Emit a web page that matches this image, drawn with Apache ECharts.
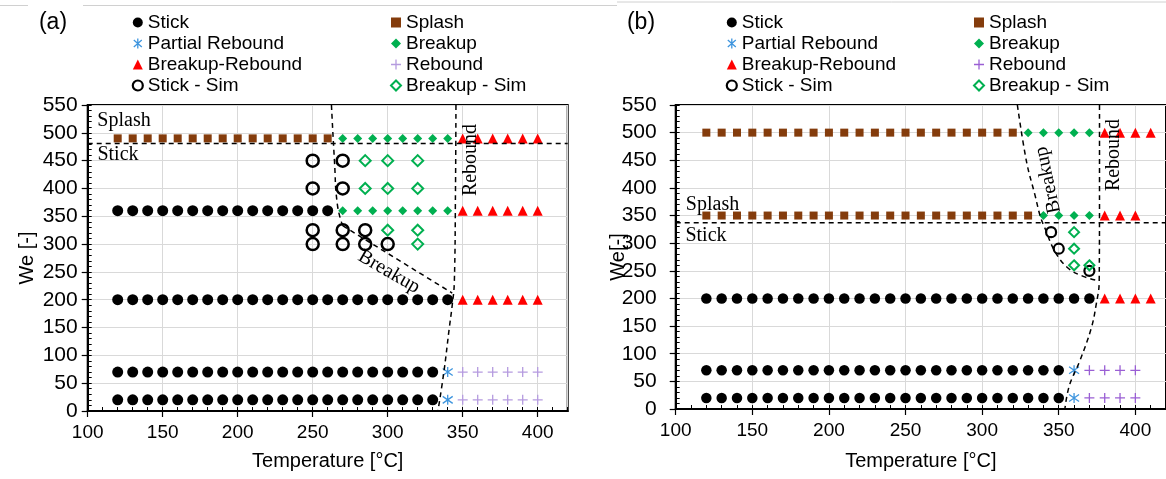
<!DOCTYPE html>
<html><head><meta charset="utf-8">
<script src="https://cdn.jsdelivr.net/npm/echarts@6/dist/echarts.min.js"></script>
<style>
html,body{margin:0;padding:0;background:#fff;width:1166px;height:479px;overflow:hidden}
#a{position:absolute;left:0;top:0;width:583px;height:479px}
#b{position:absolute;left:583px;top:0;width:583px;height:479px}
</style>
</head><body><div id="a"></div><div id="b"></div>
<script>
// ================= Panel (a) data =================
const aSplashT490   = [120,130,140,150,160,170,180,190,200,210,220,230,240,250,260];
const aBreakupT490  = [270,280,290,300,310,320,330,340];
const aBRT490       = [350,360,370,380,390,400];
const aStickT360    = [120,130,140,150,160,170,180,190,200,210,220,230,240,250,260];
const aBreakupT360  = [270,280,290,300,310,320,330,340];
const aBRT360       = [350,360,370,380,390,400];
const aStickT200    = [120,130,140,150,160,170,180,190,200,210,220,230,240,250,260,270,280,290,300,310,320,330,340];
const aBRT200       = [350,360,370,380,390,400];
const aStickT70     = [120,130,140,150,160,170,180,190,200,210,220,230,240,250,260,270,280,290,300,310,320,330];
const aStickT20     = [120,130,140,150,160,170,180,190,200,210,220,230,240,250,260,270,280,290,300,310,320,330];
const aPartial      = [[340,70],[340,20]];
const aReboundT70   = [350,360,370,380,390,400];
const aReboundT20   = [350,360,370,380,390,400];
const aStickSim     = [[250,450],[270,450],[250,400],[270,400],[250,325],[270,325],[285,325],[250,300],[270,300],[285,300],[300,300]];
const aBreakupSim   = [[285,450],[300,450],[320,450],[285,400],[300,400],[320,400],[300,325],[320,325],[320,300]];
// regime boundaries (a)
const aSplashLine   = [[100,481],[420,481]];
const aBreakupUpper = [[262.5,550],[264.5,450],[266.5,370],[270,333]];
const aBreakupLower = [[270,333],[343,212]];
const aReboundLine  = [[345.5,550],[345.2,400],[344.4,230],[343,190],[341,148],[337.5,71],[333.5,0]];

// ================= Panel (b) data =================
const bSplashT500   = [120,130,140,150,160,170,180,190,200,210,220,230,240,250,260,270,280,290,300,310,320];
const bBreakupT500  = [330,340,350,360,370];
const bBRT500       = [380,390,400,410];
const bSplashT350   = [120,130,140,150,160,170,180,190,200,210,220,230,240,250,260,270,280,290,300,310,320,330];
const bBreakupT350  = [340,350,360,370];
const bBRT350       = [380,390,400];
const bStickT200    = [120,130,140,150,160,170,180,190,200,210,220,230,240,250,260,270,280,290,300,310,320,330,340,350,360,370];
const bBRT200       = [380,390,400,410];
const bStickT70     = [120,130,140,150,160,170,180,190,200,210,220,230,240,250,260,270,280,290,300,310,320,330,340,350];
const bStickT20     = [120,130,140,150,160,170,180,190,200,210,220,230,240,250,260,270,280,290,300,310,320,330,340,350];
const bPartial      = [[360,70],[360,20]];
const bReboundT70   = [370,380,390,400];
const bReboundT20   = [370,380,390,400];
const bStickSim     = [[345,320],[350,290],[370,250]];
const bBreakupSim   = [[360,320],[360,290],[360,260],[370,260]];
// regime boundaries (b)
const bSplashLine   = [[100,337],[420,337]];
const bBreakupCurve = [[323,550],[329,447],[334.5,387],[338,348],[341,327],[347.5,285],[356,255],[366,240],[374.5,233]];
const bReboundLine  = [[376.6,550],[376.6,400],[376.4,230],[374.5,190],[371.2,146],[363.6,86],[357,43],[354,0]];

// ================= helpers =================
const pts = (ts, we) => ts.map(t => [t, we]);
const SANS = 'Liberation Sans';
const SERIF = 'Liberation Serif';
const ASTER = 'path://M5,0L5,10M1,1.5L9,8.5M1,8.5L9,1.5';
const PLUS  = 'path://M5,0L5,10M0,5L10,5';
const C = {stick:'#000000', splash:'#843C0C', breakup:'#00B050', br:'#FF0000', partial:'#3E95DE'};

function scatter(name, data, symbol, size, style, z){
  return {name, type:'scatter', data, symbol, symbolSize:size, itemStyle:Object.assign({opacity:1}, style), z:z||3, silent:true, animation:false};
}
function dline(data, smooth){
  return {type:'line', data, smooth:smooth||false, symbol:'none', silent:true, animation:false, z:4,
          lineStyle:{color:'#000', width:1.5, type:[5,4]}};
}
function axes(o){
  return {
    grid:{left:o.left, top:105, width:o.width, height:o.height, show:true, borderColor:'#000', borderWidth:2, backgroundColor:'transparent'},
    xAxis:[
      {type:'value', min:100, max:420, interval:50, position:'bottom',
       name:'Temperature [°C]', nameLocation:'middle', nameGap:o.xNameGap, nameMoveOverlap:false,
       nameTextStyle:{fontFamily:SANS, fontSize:20, color:'#000'},
       axisLine:{show:true, lineStyle:{color:'#000', width:2}},
       axisTick:{show:true, inside:false, length:6, lineStyle:{color:'#000', width:1.2}},
       axisLabel:{margin:12, showMaxLabel:false, fontFamily:SANS, fontSize:19, color:'#000'},
       splitLine:{show:true, lineStyle:{color:'#d9d9d9', width:1}}},
      {type:'value', min:100, max:420, interval:10, position:'bottom',
       axisLine:{show:false}, axisLabel:{show:false}, splitLine:{show:false},
       axisTick:{show:true, inside:true, length:4, lineStyle:{color:'#000', width:1}}}
    ],
    yAxis:[
      {type:'value', min:0, max:550, interval:50, position:'left',
       name:o.yName, nameLocation:'middle', nameGap:o.yNameGap, nameRotate:90, nameMoveOverlap:false,
       nameTextStyle:{fontFamily:SANS, fontSize:20, color:'#000'},
       axisLine:{show:true, lineStyle:{color:'#000', width:2}},
       axisTick:{show:true, inside:false, length:6, lineStyle:{color:'#000', width:1.2}},
       axisLabel:{margin:o.yMargin, fontFamily:SANS, fontSize:21, color:'#000'},
       splitLine:{show:true, lineStyle:{color:'#d9d9d9', width:1}}},
      {type:'value', min:0, max:550, interval:10, position:'left',
       axisLine:{show:false}, axisLabel:{show:false}, splitLine:{show:false},
       axisTick:{show:true, inside:true, length:4, lineStyle:{color:'#000', width:1}}}
    ]
  };
}
function legends(x1, x2, reboundColor){
  const base = {orient:'vertical', top:12, itemWidth:10, itemHeight:10, itemGap:0, padding:0, selectedMode:false,
    textStyle:{fontFamily:SANS, fontSize:19, lineHeight:21, color:'#000'}};
  return [
    Object.assign({left:x1, data:[
      {name:'Stick'},
      {name:'Partial Rebound', itemStyle:{color:C.partial, borderColor:C.partial, borderWidth:1.3}},
      {name:'Breakup-Rebound'},
      {name:'Stick - Sim', itemStyle:{color:'rgba(0,0,0,0)', borderColor:'#000', borderWidth:2.2}}
    ]}, base),
    Object.assign({left:x2, data:[
      {name:'Splash'},
      {name:'Breakup'},
      {name:'Rebound', itemStyle:{color:reboundColor, borderColor:reboundColor, borderWidth:1.3}},
      {name:'Breakup - Sim', itemStyle:{color:'rgba(0,0,0,0)', borderColor:C.breakup, borderWidth:2}}
    ]}, base)
  ];
}
function txt(text, x, y, deg, font){
  return {type:'text', x, y, rotation:(deg||0)*Math.PI/180, silent:true, z:10,
          style:{text, x:0, y:0, align:'center', verticalAlign:'middle', font:font||('20px "'+SERIF+'"'), fill:'#000'}};
}
function hline(x1, x2, y){
  return {type:'line', silent:true, shape:{x1, y1:y, x2, y2:y}, style:{stroke:'#d0d0d0', lineWidth:1}};
}

// ================= Panel (a) =================
const reboundA = '#B59BDF';
const chartA = echarts.init(document.getElementById('a'), null, {renderer:'canvas'});
const optA = Object.assign(axes({left:87.7, width:480, height:306, xNameGap:40, yName:'We [-]', yNameGap:50, yMargin:10}), {
  backgroundColor:'#fff',
  legend: legends(131.7, 390, reboundA),
  series:[
    scatter('Splash', pts(aSplashT490,490), 'rect', 8, {color:C.splash}),
    scatter('Breakup', pts(aBreakupT490,490).concat(pts(aBreakupT360,360)), 'diamond', 9, {color:C.breakup}),
    scatter('Breakup-Rebound', pts(aBRT490,490).concat(pts(aBRT360,360), pts(aBRT200,200)), 'triangle', 10, {color:C.br}),
    scatter('Stick', pts(aStickT360,360).concat(pts(aStickT200,200), pts(aStickT70,70), pts(aStickT20,20)), 'circle', 11, {color:C.stick}),
    scatter('Partial Rebound', aPartial, ASTER, 10, {color:C.partial, borderColor:C.partial, borderWidth:1.3}),
    scatter('Rebound', pts(aReboundT70,70).concat(pts(aReboundT20,20)), PLUS, 10, {color:reboundA, borderColor:reboundA, borderWidth:1.3}),
    scatter('Stick - Sim', aStickSim, 'circle', 12, {color:'rgba(0,0,0,0)', borderColor:'#000', borderWidth:2.5}),
    scatter('Breakup - Sim', aBreakupSim, 'diamond', 11, {color:'rgba(0,0,0,0)', borderColor:C.breakup, borderWidth:2}),
    dline(aSplashLine), dline(aBreakupUpper, 0.5), dline(aBreakupLower), dline(aReboundLine, 0.4)
  ],
  graphic:[
    hline(0,28,5.5), hline(83,583,5.5),
    txt('(a)', 53, 23, 0, '23px "'+SANS+'"'),
    txt('Splash', 124, 121, 0), txt('Stick', 118, 155, 0),
    txt('Rebound', 471, 160, 90), txt('Breakup', 389, 272, -30)
  ]
});
chartA.setOption(optA);

// ================= Panel (b) =================
const reboundB = '#9A5FD4';
const chartB = echarts.init(document.getElementById('b'), null, {renderer:'canvas'});
const optB = Object.assign(axes({left:92.7, width:492.8, height:304, xNameGap:42, yName:'We[-]', yNameGap:47, yMargin:19}), {
  backgroundColor:'#fff',
  legend: legends(142.7, 390, reboundB),
  series:[
    scatter('Splash', pts(bSplashT500,500).concat(pts(bSplashT350,350)), 'rect', 8, {color:C.splash}),
    scatter('Breakup', pts(bBreakupT500,500).concat(pts(bBreakupT350,350)), 'diamond', 9, {color:C.breakup}),
    scatter('Breakup-Rebound', pts(bBRT500,500).concat(pts(bBRT350,350), pts(bBRT200,200)), 'triangle', 10, {color:C.br}),
    scatter('Stick', pts(bStickT200,200).concat(pts(bStickT70,70), pts(bStickT20,20)), 'circle', 10.5, {color:C.stick}),
    scatter('Partial Rebound', bPartial, ASTER, 10, {color:C.partial, borderColor:C.partial, borderWidth:1.3}),
    scatter('Rebound', pts(bReboundT70,70).concat(pts(bReboundT20,20)), PLUS, 10, {color:reboundB, borderColor:reboundB, borderWidth:1.3}),
    scatter('Stick - Sim', bStickSim, 'circle', 10, {color:'rgba(0,0,0,0)', borderColor:'#000', borderWidth:2.2}),
    scatter('Breakup - Sim', bBreakupSim, 'diamond', 10, {color:'rgba(0,0,0,0)', borderColor:C.breakup, borderWidth:2}),
    dline(bSplashLine), dline(bBreakupCurve, 0.4), dline(bReboundLine, 0.4)
  ],
  graphic:[
    hline(0,34,5.5), hline(34,583,2),
    txt('(b)', 58, 23, 0, '23px "'+SANS+'"'),
    txt('Splash', 129.5, 205, 0), txt('Stick', 123, 236, 0),
    txt('Breakup', 465, 180, 102), txt('Rebound', 531, 155, 90)
  ]
});
chartB.setOption(optB);
</script>
</body></html>
